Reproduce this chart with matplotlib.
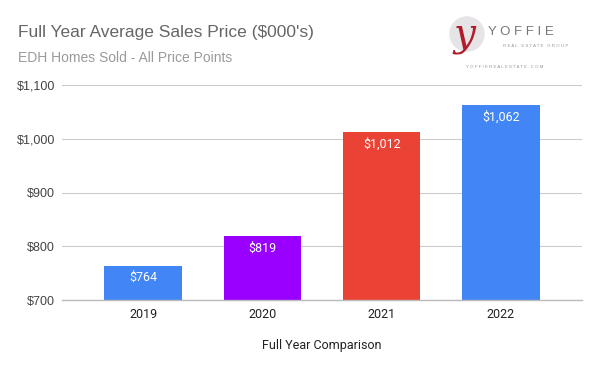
import matplotlib
matplotlib.use("Agg")
import matplotlib.pyplot as plt
from matplotlib.patches import Ellipse
from matplotlib.ticker import FuncFormatter

years = ["2019", "2020", "2021", "2022"]
prices = [764, 819, 1012, 1062]
bar_colors = ["#4285F4", "#9900FF", "#EA4335", "#4285F4"]
y_ticks = [700, 800, 900, 1000, 1100]

plt.rcParams['font.family'] = ['Liberation Sans', 'DejaVu Sans']

fig = plt.figure(figsize=(6, 3.71), dpi=100)
ax = fig.add_axes([62/600, 1-300/371, 520/600, 215/371])

x = list(range(len(years)))
bars = ax.bar(x, prices, width=0.65, color=bar_colors, zorder=3)
ax.set_ylim(700, 1100)
ax.set_xlim(-0.68, 3.68)
ax.set_yticks(y_ticks)
ax.yaxis.set_major_formatter(FuncFormatter(lambda v, p: f"${v:,.0f}"))
ax.set_xticks(x)
ax.set_xticklabels(years)
ax.grid(axis='y', color='#cccccc', linewidth=0.8, zorder=0)
for s in ['top', 'right', 'left']:
    ax.spines[s].set_visible(False)
ax.spines['bottom'].set_color('#bbbbbb')
ax.spines['bottom'].set_linewidth(1.0)
ax.spines['bottom'].set_zorder(4)
ax.tick_params(axis='y', length=0, pad=5, labelsize=9, labelcolor='#444444')
ax.tick_params(axis='x', length=0, pad=5.5, labelsize=9, labelcolor='#222222')
for lab in ax.get_xticklabels():
    lab.set_family(['Roboto', 'DejaVu Sans'])
ax.set_xlabel("Full Year Comparison", fontsize=9, color='#222222', labelpad=13.5,
              family=['Roboto', 'DejaVu Sans'])

for b, v in zip(bars, prices):
    ax.annotate(f"${v:,}", (b.get_x() + b.get_width()/2, v), xytext=(0, -8.5),
                textcoords='offset points', ha='center', va='center',
                color='white', fontsize=9, family=['Roboto', 'DejaVu Sans'], zorder=5)

fig.text(18/600, 1-32/371, "Full Year Average Sales Price ($000's)", fontsize=12.5,
         color='#666666', va='center', ha='left')
fig.text(18/600, 1-58/371, "EDH Homes Sold - All Price Points", fontsize=10,
         color='#9a9a9a', va='center', ha='left')

# logo approximation
circ = Ellipse((467/600, 1-34/371), 34/600, 34/371, transform=fig.transFigure,
               color='#e6e4e6', zorder=1)
fig.patches.append(circ)
fig.text(464/600, 1-35/371, "y", fontsize=28, color='#b01c2a', style='italic',
         family=['DejaVu Serif'], ha='center', va='center')
fig.text(488/600, 1-32/371, "Y O F F I E", fontsize=9.5, color='#777777', ha='left', va='center')
fig.text(503/600, 1-46/371, "R E A L   E S T A T E   G R O U P", fontsize=3.2, color='#999999', ha='left', va='center')
fig.text(505/600, 1-67/371, "Y O F F I E R E A L E S T A T E . C O M", fontsize=3.2, color='#999999', ha='center', va='center')

fig.savefig("out.png", dpi=100)
